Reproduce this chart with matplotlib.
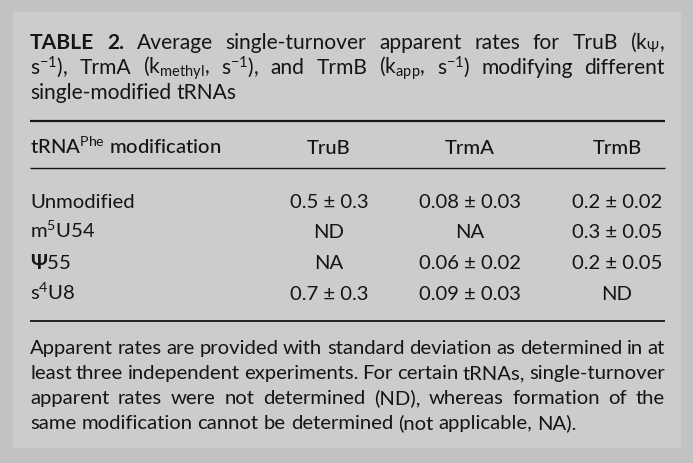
import matplotlib

matplotlib.use("Agg")
import matplotlib.pyplot as plt  # noqa: E402
from matplotlib.patches import Rectangle  # noqa: E402

W, H = 693, 464
DPI = 100

# ---- table content ----
TITLE = [
    "**TABLE** **2.** Average single-turnover apparent rates for TruB (k$_{\\Psi}$,",
    "s$^{-1}$), TrmA (k$_{\\mathrm{methyl}}$, s$^{-1}$), and TrmB (k$_{\\mathrm{app}}$, s$^{-1}$) modifying different",
    "single-modified tRNAs",
]
FIRST_HEADER = "tRNA$^{\\mathrm{Phe}}$ modification"
ENZYMES = ["TruB", "TrmA", "TrmB"]
MODIFICATIONS = ["Unmodified", "m$^{5}$U54", "$\\mathbf{\\Psi}$55", "s$^{4}$U8"]
TRUB = ["0.5 ± 0.3", "ND", "NA", "0.7 ± 0.3"]
TRMA = ["0.08 ± 0.03", "NA", "0.06 ± 0.02", "0.09 ± 0.03"]
TRMB = ["0.2 ± 0.02", "0.3 ± 0.05", "0.2 ± 0.05", "ND"]
FOOTNOTE = [
    "Apparent rates are provided with standard deviation as determined in at",
    "least three independent experiments. For certain tRNAs, single-turnover",
    "apparent rates were not determined (ND), whereas formation of the",
    "same modification cannot be determined (not applicable, NA).",
]

OUTER = "#c2c2c2"
PANEL = "#cccccc"
INK = "#151515"

FONT = "Lato"
plt.rcParams["font.family"] = [FONT, "DejaVu Sans"]
plt.rcParams["mathtext.fontset"] = "custom"
plt.rcParams["mathtext.rm"] = FONT
plt.rcParams["mathtext.it"] = FONT + ":italic"
plt.rcParams["mathtext.bf"] = FONT + ":bold"

fig = plt.figure(figsize=(W / DPI, H / DPI), dpi=DPI, facecolor=OUTER)
ax = fig.add_axes([0, 0, 1, 1])
ax.set_xlim(0, W)
ax.set_ylim(H, 0)
ax.axis("off")
ax.add_patch(Rectangle((13, 13), 668, 436, facecolor=PANEL, edgecolor="none"))

renderer = fig.canvas.get_renderer()
X0, X1 = 30, 665
SIZE = 14.6
TITLE_SIZE = 15.1


def put_line(line, y, justify, size):
    words = []
    for w in line.split(" "):
        if w.startswith("**"):
            words.append((w.strip("*"), "bold"))
        else:
            words.append((w, "normal"))
    texts = [ax.text(X0, y, w, fontsize=size, fontweight=wt, color=INK,
                     va="baseline", ha="left") for w, wt in words]
    widths = [t.get_window_extent(renderer).width for t in texts]
    probe = ax.text(0, 0, "x x", fontsize=size)
    probe2 = ax.text(0, 0, "xx", fontsize=size)
    space = probe.get_window_extent(renderer).width - probe2.get_window_extent(renderer).width
    probe.remove()
    probe2.remove()
    if justify and len(texts) > 1:
        space = (X1 - X0 - sum(widths)) / (len(texts) - 1)
    x = X0
    for t, w in zip(texts, widths):
        t.set_x(x)
        x += w + space


for i, line in enumerate(TITLE):
    put_line(line, 49 + 25 * i, i < len(TITLE) - 1, TITLE_SIZE)

ax.plot([X0, X1], [122, 122], color=INK, lw=1.6, solid_capstyle="butt")
ax.plot([X0, X1], [169, 169], color=INK, lw=1.0, solid_capstyle="butt")
ax.plot([X0, X1], [322, 322], color=INK, lw=1.3, solid_capstyle="butt")

COL_X = [329, 470, 617]
ax.text(X0, 154, FIRST_HEADER, fontsize=SIZE, fontweight="medium", color=INK,
        va="baseline", ha="left")
for cx, name in zip(COL_X, ENZYMES):
    ax.text(cx, 154, name, fontsize=SIZE, fontweight="medium", color=INK,
            va="baseline", ha="center")

ROW_Y = [208, 238, 269, 300]
for ry, mod, a, b, c in zip(ROW_Y, MODIFICATIONS, TRUB, TRMA, TRMB):
    ax.text(X0, ry, mod, fontsize=SIZE, color=INK, va="baseline", ha="left")
    for cx, val in zip(COL_X, (a, b, c)):
        ax.text(cx, ry, val, fontsize=SIZE, color=INK, va="baseline", ha="center")

for i, line in enumerate(FOOTNOTE):
    put_line(line, 354 + 25 * i, i < len(FOOTNOTE) - 1, SIZE)

fig.savefig("out.png", dpi=DPI, facecolor=OUTER)
